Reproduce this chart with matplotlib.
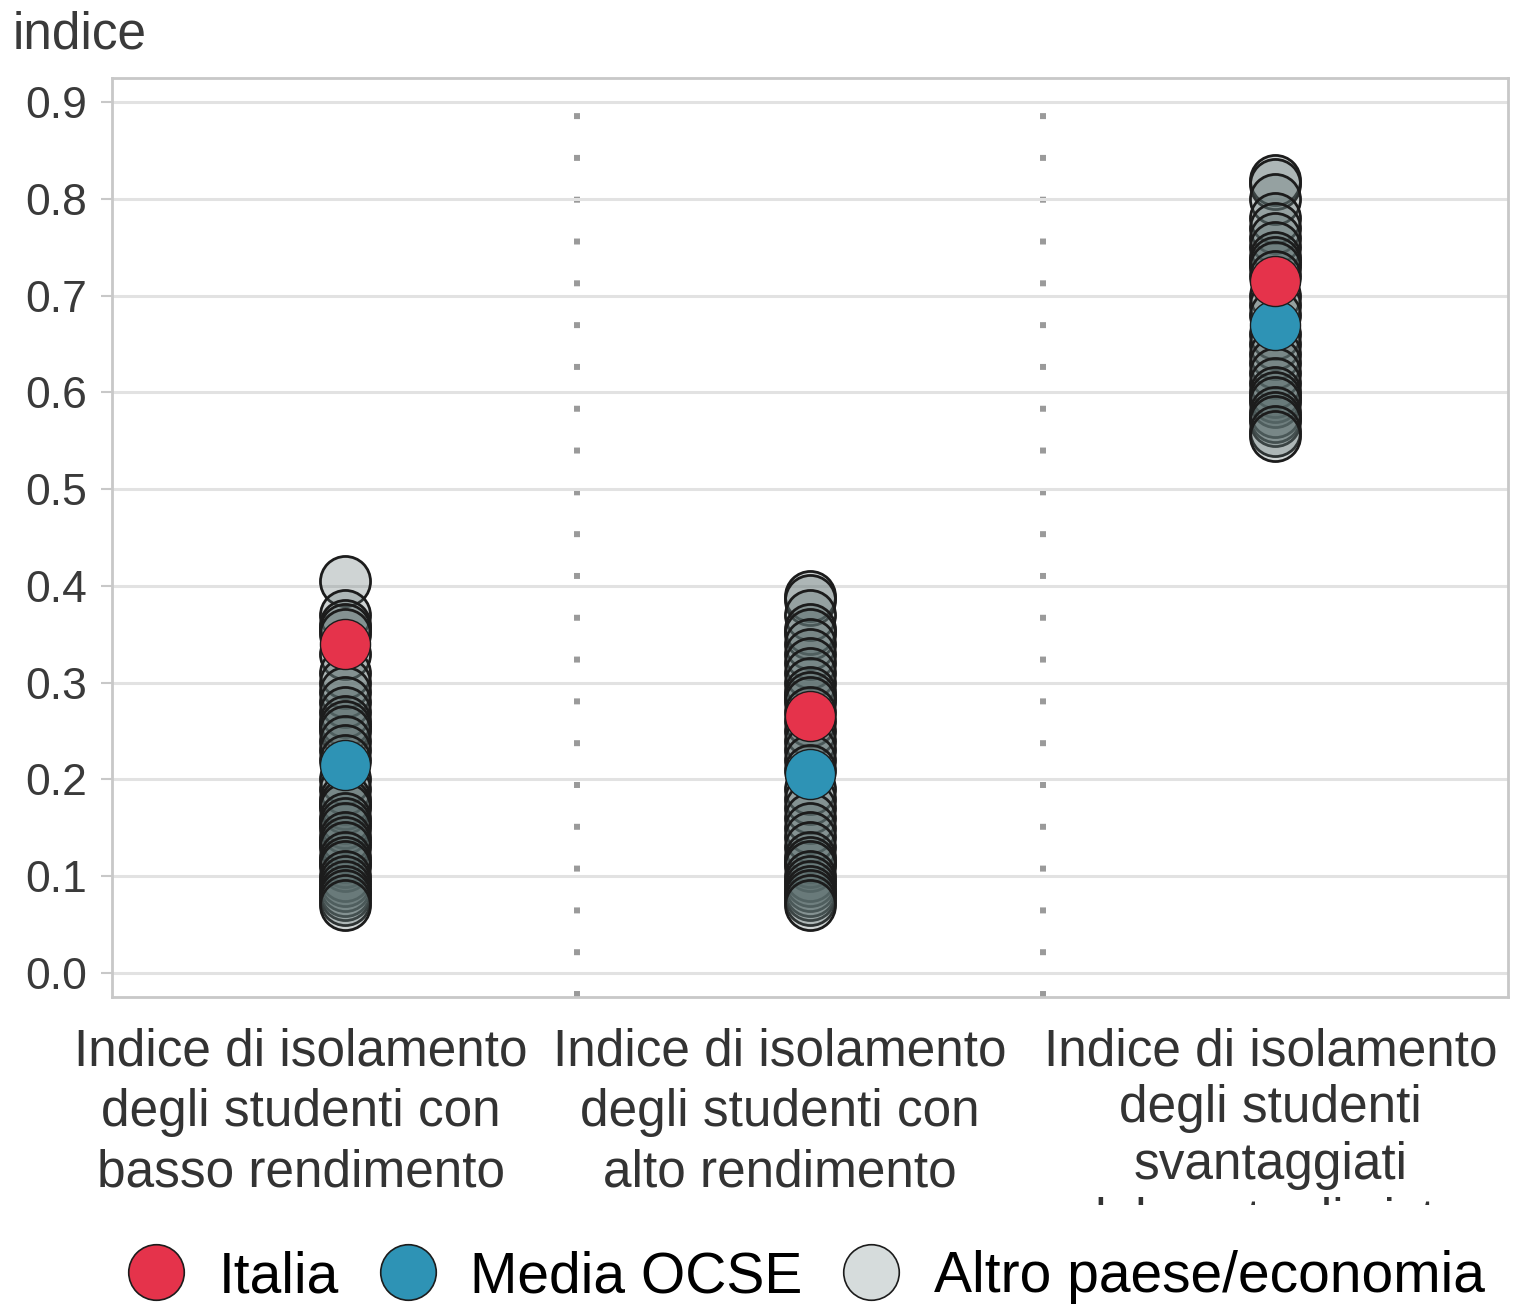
import matplotlib.pyplot as plt
from matplotlib.lines import Line2D
from matplotlib.patches import Rectangle
from matplotlib.transforms import ScaledTranslation

plt.rcParams['font.family'] = ['Liberation Sans', 'DejaVu Sans']

categories = [
    "Indice di isolamento\ndegli studenti con\nbasso rendimento",
    "Indice di isolamento\ndegli studenti con\nalto rendimento",
    "Indice di isolamento\ndegli studenti\nsvantaggiati\ndal punto di vista",
]

italia = [0.34, 0.265, 0.715]
media_ocse = [0.215, 0.205, 0.67]

altri_basso = [0.405, 0.37, 0.36, 0.355, 0.35, 0.33, 0.31, 0.30, 0.29, 0.28,
               0.27, 0.26, 0.255, 0.25, 0.24, 0.23, 0.22, 0.20, 0.19, 0.18,
               0.175, 0.17, 0.16, 0.155, 0.15, 0.14, 0.135, 0.13, 0.12, 0.115,
               0.11, 0.10, 0.095, 0.09, 0.085, 0.08, 0.075, 0.07]
altri_alto = [0.39, 0.385, 0.37, 0.355, 0.35, 0.34, 0.33, 0.32, 0.31, 0.30,
              0.29, 0.285, 0.28, 0.27, 0.26, 0.25, 0.24, 0.23, 0.22, 0.21,
              0.19, 0.18, 0.17, 0.16, 0.15, 0.14, 0.13, 0.12, 0.115, 0.11,
              0.10, 0.095, 0.09, 0.085, 0.08, 0.075, 0.07]
altri_svantaggiati = [0.82, 0.815, 0.80, 0.78, 0.77, 0.76, 0.75, 0.74, 0.735,
                      0.73, 0.72, 0.70, 0.69, 0.68, 0.66, 0.65, 0.64, 0.63,
                      0.62, 0.61, 0.60, 0.595, 0.59, 0.58, 0.575, 0.57, 0.56,
                      0.555]
altri = [altri_basso, altri_alto, altri_svantaggiati]

yticks = [0.0, 0.1, 0.2, 0.3, 0.4, 0.5, 0.6, 0.7, 0.8, 0.9]

red = "#e5334b"
blue = "#2e93b5"
grey_fill = (0.36, 0.43, 0.43, 0.29)
edge = "#1c1c1c"

fig = plt.figure(figsize=(15.24, 13.06), dpi=100)
ax = fig.add_axes([0.0735, 0.2366, 0.916, 0.7037])

size = 1300
for i, vals in enumerate(altri):
    ax.scatter([i] * len(vals), vals, s=size, facecolor=grey_fill,
               edgecolor=edge, linewidth=2.0, zorder=3)
ax.scatter(range(3), media_ocse, s=size, color=blue, edgecolor=edge,
           linewidth=1.0, zorder=4)
ax.scatter(range(3), italia, s=size, color=red, edgecolor=edge,
           linewidth=1.0, zorder=4)

# separatori punteggiati
for xs in (0.5, 1.5):
    ax.axvline(xs, color="#9a9a9a", lw=4.3, linestyle=(0, (1, 6)), zorder=1)

ax.set_xlim(-0.5, 2.5)
ax.set_ylim(-0.025, 0.925)
ax.set_yticks(yticks)
ax.set_yticklabels([f"{v:.1f}" for v in yticks])
ax.set_xticks(range(3))
ax.set_xticklabels(categories, fontsize=37, color="#333333",
                   linespacing=1.3, va="top")
ax.grid(axis="y", color="#e2e2e2", lw=2.2, zorder=0)
ax.tick_params(axis="y", labelsize=32, labelcolor="#3a3a3a", color="#c8c8c8",
               length=8, width=1.5, pad=10)
ax.tick_params(axis="x", length=0, pad=22)
for sp in ax.spines.values():
    sp.set_color("#c8c8c8")
    sp.set_linewidth(2)

# etichette leggermente spostate come nell'originale
for lab, dx in zip(ax.get_xticklabels(), (-44, -30, -5)):
    lab.set_transform(lab.get_transform()
                      + ScaledTranslation(dx / 100, 0, fig.dpi_scale_trans))
ax.get_xticklabels()[2].set_linespacing(1.2)

fig.text(0.008, 0.973, "indice", fontsize=37, color="#3a3a3a", va="center")

# riga tagliata dell'ultima etichetta
fig.patches.append(Rectangle((0.6, 0.035), 0.4, 0.042, transform=fig.transFigure,
                             facecolor="white", edgecolor="none", zorder=3))

handles = [
    Line2D([], [], marker="o", ls="none", markersize=40, markerfacecolor=red,
           markeredgecolor=edge, markeredgewidth=1.2),
    Line2D([], [], marker="o", ls="none", markersize=40, markerfacecolor=blue,
           markeredgecolor=edge, markeredgewidth=1.2),
    Line2D([], [], marker="o", ls="none", markersize=40,
           markerfacecolor="#d6dcdc", markeredgecolor=edge,
           markeredgewidth=1.2),
]
fig.legend(handles, ["Italia", "Media OCSE", "Altro paese/economia"],
           loc="center", bbox_to_anchor=(0.529, 0.022), ncol=3, frameon=False,
           fontsize=41, handletextpad=0.6, columnspacing=0.7,
           handlelength=1.0)

plt.savefig("out.png", dpi=100, facecolor="white")
